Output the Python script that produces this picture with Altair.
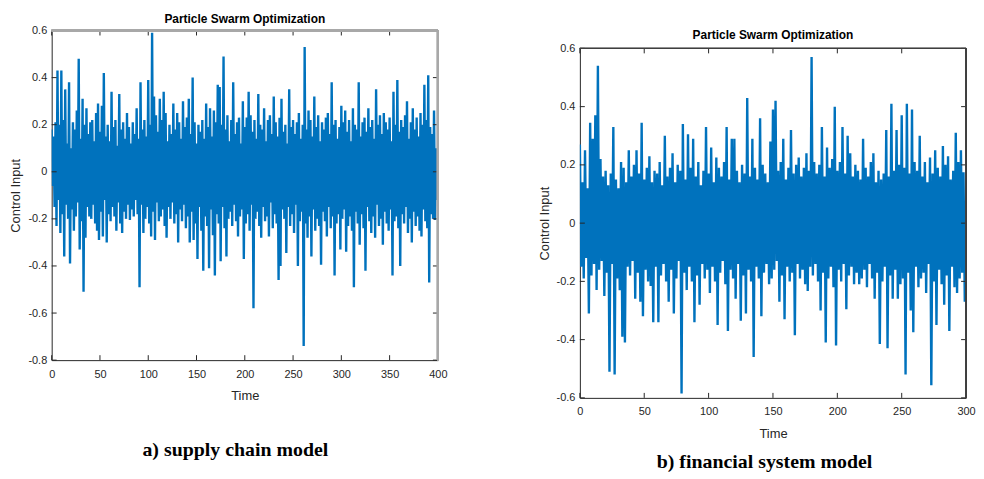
import altair as alt
import pandas as pd

# ---------------- data ----------------
# Panel a) supply chain model: local maxima at t = 0,2,4,... and minima at t = 1,3,5,...
A_HIGH = [
    0.18, 0.15, 0.21, 0.43, 0.20, 0.43, 0.22, 0.35, 0.12, 0.38, 0.10, 0.21, 0.18, 0.26, 0.48, 0.14, 0.31, 0.20, 0.27, 0.16,
    0.21, 0.22, 0.13, 0.25, 0.29, 0.17, 0.28, 0.42, 0.15, 0.20, 0.13, 0.34, 0.19, 0.22, 0.11, 0.33, 0.18, 0.21, 0.14, 0.25,
    0.19, 0.12, 0.21, 0.16, 0.27, 0.14, 0.38, 0.18, 0.22, 0.15, 0.39, 0.20, 0.59, 0.32, 0.24, 0.17, 0.31, 0.22, 0.34, 0.25,
    0.13, 0.20, 0.16, 0.29, 0.18, 0.25, 0.21, 0.14, 0.30, 0.19, 0.23, 0.31, 0.16, 0.40, 0.21, 0.12, 0.20, 0.17, 0.22, 0.14,
    0.29, 0.19, 0.27, 0.15, 0.26, 0.21, 0.37, 0.36, 0.20, 0.49, 0.18, 0.24, 0.13, 0.22, 0.38, 0.16, 0.21, 0.23, 0.12, 0.30,
    0.19, 0.23, 0.34, 0.24, 0.17, 0.22, 0.14, 0.33, 0.20, 0.18, 0.27, 0.13, 0.22, 0.24, 0.16, 0.32, 0.21, 0.15, 0.23, 0.31,
    0.17, 0.20, 0.12, 0.35, 0.19, 0.22, 0.16, 0.21, 0.25, 0.14, 0.20, 0.53, 0.18, 0.26, 0.22, 0.15, 0.32, 0.19, 0.24, 0.13,
    0.21, 0.18, 0.23, 0.25, 0.16, 0.38, 0.20, 0.22, 0.14, 0.19, 0.28, 0.21, 0.26, 0.17, 0.22, 0.13, 0.27, 0.20, 0.18, 0.38,
    0.15, 0.21, 0.23, 0.17, 0.27, 0.19, 0.22, 0.14, 0.35, 0.20, 0.24, 0.16, 0.25, 0.21, 0.18, 0.23, 0.13, 0.34, 0.20, 0.39,
    0.17, 0.22, 0.19, 0.24, 0.30, 0.14, 0.21, 0.27, 0.18, 0.23, 0.15, 0.25, 0.20, 0.37, 0.22, 0.41, 0.19, 0.16, 0.26, 0.10,
]
A_LOW = [
    -0.06, -0.15, -0.23, -0.12, -0.26, -0.18, -0.36, -0.14, -0.20, -0.39, -0.16, -0.25, -0.19, -0.13, -0.33, -0.21, -0.51, -0.28, -0.15, -0.19,
    -0.20, -0.14, -0.22, -0.25, -0.29, -0.17, -0.275, -0.12, -0.30, -0.18, -0.21, -0.15, -0.19, -0.25, -0.13, -0.22, -0.26, -0.17, -0.20, -0.14,
    -0.205, -0.16, -0.19, -0.12, -0.18, -0.49, -0.14, -0.26, -0.20, -0.15, -0.22, -0.275, -0.17, -0.29, -0.13, -0.21, -0.19, -0.16, -0.23, -0.28,
    -0.15, -0.20, -0.13, -0.22, -0.18, -0.30, -0.16, -0.21, -0.14, -0.24, -0.19, -0.30, -0.17, -0.29, -0.22, -0.37, -0.15, -0.25, -0.42, -0.19,
    -0.23, -0.41, -0.16, -0.27, -0.44, -0.18, -0.22, -0.38, -0.15, -0.24, -0.36, -0.20, -0.17, -0.23, -0.14, -0.21, -0.275, -0.19, -0.16, -0.37,
    -0.22, -0.18, -0.25, -0.14, -0.58, -0.20, -0.17, -0.23, -0.28, -0.15, -0.21, -0.19, -0.275, -0.13, -0.24, -0.18, -0.22, -0.46, -0.40, -0.16,
    -0.20, -0.345, -0.15, -0.23, -0.18, -0.26, -0.14, -0.40, -0.21, -0.17, -0.74, -0.22, -0.28, -0.19, -0.36, -0.16, -0.25, -0.20, -0.23, -0.395,
    -0.17, -0.21, -0.275, -0.15, -0.24, -0.19, -0.44, -0.22, -0.18, -0.33, -0.20, -0.16, -0.34, -0.23, -0.19, -0.25, -0.49, -0.17, -0.22, -0.31,
    -0.18, -0.24, -0.42, -0.15, -0.21, -0.26, -0.19, -0.28, -0.14, -0.23, -0.20, -0.31, -0.17, -0.22, -0.25, -0.16, -0.44, -0.21, -0.19, -0.24,
    -0.40, -0.18, -0.22, -0.15, -0.26, -0.20, -0.30, -0.17, -0.23, -0.19, -0.25, -0.275, -0.16, -0.21, -0.24, -0.47, -0.18, -0.20, -0.205, -0.12,
]

# Panel b) financial system model
B_HIGH = [
    0.27, 0.14, 0.25, 0.12, 0.345, 0.29, 0.37, 0.54, 0.22, 0.16,
    0.18, 0.13, 0.17, 0.33, 0.15, 0.12, 0.21, 0.19, 0.14, 0.25,
    0.16, 0.20, 0.25, 0.17, 0.345, 0.15, 0.19, 0.23, 0.14, 0.18,
    0.17, 0.21, 0.13, 0.30, 0.16, 0.19, 0.24, 0.14, 0.20, 0.18,
    0.34, 0.15, 0.305, 0.19, 0.29, 0.16, 0.21, 0.13, 0.18, 0.33,
    0.17, 0.26, 0.14, 0.225, 0.19, 0.16, 0.21, 0.33, 0.15, 0.29,
    0.29, 0.18, 0.14, 0.20, 0.17, 0.43, 0.16, 0.29, 0.19, 0.15,
    0.36, 0.20, 0.17, 0.14, 0.28, 0.39, 0.42, 0.18, 0.21, 0.29,
    0.15, 0.19, 0.32, 0.17, 0.20, 0.225, 0.16, 0.19, 0.24, 0.18,
    0.57, 0.21, 0.17, 0.20, 0.33, 0.16, 0.26, 0.19, 0.22, 0.40,
    0.18, 0.21, 0.33, 0.17, 0.30, 0.24, 0.16, 0.20, 0.18, 0.15,
    0.29, 0.19, 0.16, 0.21, 0.24, 0.14, 0.18, 0.15, 0.17, 0.32,
    0.16, 0.41, 0.18, 0.32, 0.20, 0.37, 0.19, 0.41, 0.17, 0.39,
    0.21, 0.18, 0.30, 0.16, 0.21, 0.14, 0.225, 0.17, 0.25, 0.19,
    0.16, 0.265, 0.20, 0.23, 0.15, 0.18, 0.31, 0.21, 0.25, 0.175,
]
B_LOW = [
    -0.15, -0.19, -0.12, -0.31, -0.18, -0.14, -0.23, -0.16, -0.13, -0.25,
    -0.17, -0.51, -0.14, -0.52, -0.19, -0.23, -0.39, -0.41, -0.15, -0.18,
    -0.13, -0.26, -0.17, -0.27, -0.32, -0.16, -0.20, -0.216, -0.34, -0.15,
    -0.34, -0.18, -0.14, -0.20, -0.27, -0.16, -0.31, -0.19, -0.13, -0.585,
    -0.17, -0.23, -0.15, -0.20, -0.34, -0.18, -0.28, -0.14, -0.19, -0.16,
    -0.24, -0.15, -0.20, -0.35, -0.17, -0.13, -0.21, -0.37, -0.16, -0.19,
    -0.26, -0.14, -0.335, -0.18, -0.31, -0.16, -0.20, -0.46, -0.15, -0.19,
    -0.32, -0.17, -0.14, -0.21, -0.19, -0.16, -0.13, -0.27, -0.18, -0.33,
    -0.15, -0.20, -0.17, -0.385, -0.14, -0.19, -0.16, -0.21, -0.233, -0.15,
    -0.18, -0.14, -0.20, -0.30, -0.17, -0.41, -0.19, -0.15, -0.22, -0.42,
    -0.16, -0.20, -0.14, -0.296, -0.18, -0.15, -0.21, -0.17, -0.21, -0.19,
    -0.16, -0.22, -0.14, -0.19, -0.26, -0.17, -0.415, -0.20, -0.15, -0.43,
    -0.18, -0.26, -0.16, -0.26, -0.21, -0.19, -0.52, -0.17, -0.30, -0.375,
    -0.15, -0.22, -0.19, -0.17, -0.24, -0.14, -0.557, -0.20, -0.35, -0.16,
    -0.21, -0.28, -0.18, -0.37, -0.15, -0.22, -0.24, -0.19, -0.17, -0.27,
]

A_XTICKS = [0, 50, 100, 150, 200, 250, 300, 350, 400]
A_YTICKS = [-0.8, -0.6, -0.4, -0.2, 0, 0.2, 0.4, 0.6]
B_XTICKS = [0, 50, 100, 150, 200, 250, 300]
B_YTICKS = [-0.6, -0.4, -0.2, 0, 0.2, 0.4, 0.6]

TITLE = "Particle Swarm Optimization"
CAPTION_A = "a) supply chain model"
CAPTION_B = "b) financial system model"

BLUE = "#0072BD"
DARK = "#262626"
SANS = "Liberation Sans"


def series(highs, lows):
    rows = []
    for k, (h, l) in enumerate(zip(highs, lows)):
        rows.append({"t": 2 * k, "u": h})
        rows.append({"t": 2 * k + 1, "u": l})
    return pd.DataFrame(rows)


Y_LABEL = ("datum.value == 0 ? '0' : (datum.value < 0 ? '-' + format(-datum.value, '.1f')"
           " : format(datum.value, '.1f'))")


def panel(df, xdom, ydom, xt, yt, W, H, top, title, title_y, caption, cap_x, cap_y,
          frame_color, frame_w):
    """top: pixel row (inside the panel) where the top of the y domain sits."""
    xs = alt.Scale(domain=xdom, nice=False, zero=False)
    ys = alt.Scale(domain=ydom, nice=False, zero=False, range=[H, top])
    x_axis = alt.Axis(values=xt, tickSize=0, labelPadding=8, title="Time", titlePadding=11,
                      domainColor=DARK, labelColor=DARK, titleColor=DARK, grid=False,
                      labelFontSize=11, titleFontSize=13, titleFontWeight="normal",
                      labelFont=SANS, titleFont=SANS, labelFlush=False, labelOverlap=False,
                      format="d")
    y_axis = alt.Axis(values=yt, tickSize=0, labelPadding=5, title="Control Input", titlePadding=5,
                      domainColor=DARK, labelColor=DARK, titleColor=DARK, grid=False,
                      labelFontSize=11, titleFontSize=13, titleFontWeight="normal",
                      labelFont=SANS, titleFont=SANS, labelFlush=False, labelOverlap=False,
                      labelExpr=Y_LABEL)
    X = alt.X("t:Q", scale=xs, axis=x_axis)
    Y = alt.Y("u:Q", scale=ys, axis=y_axis)
    line = alt.Chart(df).mark_line(color=BLUE, strokeWidth=2.4, clip=True).encode(x=X, y=Y)
    ydf = pd.DataFrame({"u": yt})
    xdf = pd.DataFrame({"t": xt})
    rule = dict(color=DARK, strokeWidth=1)
    tl = alt.Chart(ydf).mark_rule(**rule).encode(y=Y, x=alt.value(0), x2=alt.value(5))
    tr = alt.Chart(ydf).mark_rule(**rule).encode(y=Y, x=alt.value(W - 5), x2=alt.value(W))
    tb = alt.Chart(xdf).mark_rule(**rule).encode(x=X, y=alt.value(H - 5), y2=alt.value(H))
    tt = alt.Chart(xdf).mark_rule(**rule).encode(x=X, y=alt.value(top), y2=alt.value(top + 5))
    frame_top = alt.Chart(xdf).mark_rule(color=frame_color, strokeWidth=frame_w).encode(
        x=alt.value(0), x2=alt.value(W), y=alt.value(top))
    frame_right = alt.Chart(xdf).mark_rule(color=frame_color, strokeWidth=frame_w).encode(
        x=alt.value(W), y=alt.value(top), y2=alt.value(H))
    tdf = pd.DataFrame({"c": [title]})
    ttl = alt.Chart(tdf).mark_text(font=SANS, fontSize=12, fontWeight="bold", color="black",
                                   align="center", baseline="middle").encode(
        x=alt.value(W / 2), y=alt.value(title_y), text="c:N")
    # invisible copy above the panel so both panels reserve the same head room
    ghost = alt.Chart(tdf).mark_text(font=SANS, fontSize=12, fontWeight="bold", opacity=0,
                                     align="center", baseline="middle").encode(
        x=alt.value(W / 2), y=alt.value(-12), text="c:N")
    cap = alt.Chart(pd.DataFrame({"c": [caption]})).mark_text(
        font="Liberation Serif", fontSize=20, fontWeight="bold", color="black",
        align="center", baseline="middle").encode(
        x=alt.value(cap_x), y=alt.value(cap_y), text="c:N")
    return alt.layer(line, tl, tr, tb, tt, frame_top, frame_right, ttl, ghost, cap).properties(
        width=W, height=H,
        view=alt.ViewBackground(strokeOpacity=0),
    )


# left panel: plot from page y 29 to 361; right panel: page y 47 to 399 (panel starts at 29)
left = panel(series(A_HIGH, A_LOW), [0, 400], [-0.8, 0.6], A_XTICKS, A_YTICKS,
             389, 332, 0, TITLE, -12, CAPTION_A, 185, 423, "#a8a8a8", 2)
right = panel(series(B_HIGH, B_LOW), [0, 300], [-0.6, 0.6], B_XTICKS, B_YTICKS,
              389, 370, 18, TITLE, 5, CAPTION_B, 186, 435, "#404040", 1)

chart = alt.hconcat(left, right, spacing=91).properties(
    padding={"left": 2, "top": 3, "right": 0, "bottom": 0},
    background="white",
).configure_view(strokeOpacity=0)

chart.save("out.html", embed_options={"renderer": "svg", "actions": False})
